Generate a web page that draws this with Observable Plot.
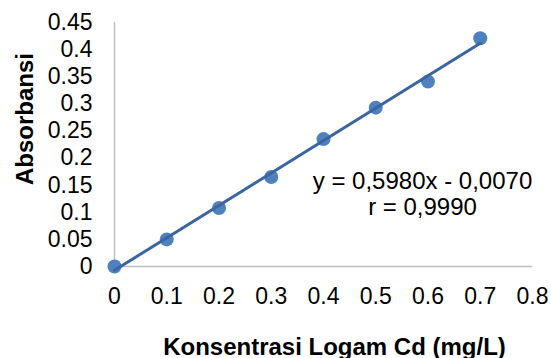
<!DOCTYPE html>
<html>
<head>
<meta charset="utf-8">
<script src="https://cdn.jsdelivr.net/npm/d3@7"></script>
<script src="https://cdn.jsdelivr.net/npm/@observablehq/plot@0.6"></script>
<style>
  html, body { margin: 0; padding: 0; background: #fff; }
  #chart svg { display: block; }
</style>
</head>
<body>
<div id="chart"></div>
<script>
// Data
const concentrations = [0, 0.1, 0.2, 0.3, 0.4, 0.5, 0.6, 0.7];
const absorbances = [0, 0.05, 0.108, 0.165, 0.235, 0.293, 0.341, 0.421];
// Linear trendline endpoints (y = 0.5980x - 0.0070)
const trendX = [0, 0.7];
const trendY = [-0.007, 0.4116];
const xTicks = [0, 0.1, 0.2, 0.3, 0.4, 0.5, 0.6, 0.7, 0.8];
const yTicks = [0, 0.05, 0.1, 0.15, 0.2, 0.25, 0.3, 0.35, 0.4, 0.45];
const xTitle = "Konsentrasi Logam Cd (mg/L)";
const yTitle = "Absorbansi";
const annotation = ["y = 0,5980x - 0,0070", "r = 0,9990"];

const points = concentrations.map((x, i) => ({x, y: absorbances[i]}));
const trend = trendX.map((x, i) => ({x, y: trendY[i]}));

const font = "Liberation Sans, Arial, sans-serif";

const chart = Plot.plot({
  width: 551,
  height: 358,
  marginLeft: 114,
  marginRight: 19,
  marginTop: 22,
  marginBottom: 92,
  style: {fontFamily: font, color: "#000", background: "#fff"},
  x: {domain: [0, 0.8]},
  y: {domain: [0, 0.45]},
  marks: [
    Plot.ruleY([0], {stroke: "#bfbfbf", strokeWidth: 1.5}),
    Plot.ruleX([0], {stroke: "#bfbfbf", strokeWidth: 1.5}),
    Plot.axisX({ticks: xTicks, tickFormat: d => String(d), tickSize: 0, tickPadding: 21, fontSize: 23, label: null, fill: "#000"}),
    Plot.axisY({ticks: yTicks, tickFormat: d => String(d), tickSize: 0, tickPadding: 22, fontSize: 23, label: null, fill: "#000"}),
    Plot.dot(points, {x: "x", y: "y", r: 7, fill: "#4f81bd", stroke: "none"}),
    Plot.line(trend, {x: "x", y: "y", stroke: "#3a65a0", strokeWidth: 3}),
    Plot.text([annotation[0]], {frameAnchor: "top-left", dx: 308, dy: 166, lineAnchor: "bottom", textAnchor: "middle", fontSize: 24, fill: "#000"}),
    Plot.text([annotation[1]], {frameAnchor: "top-left", dx: 308, dy: 192, lineAnchor: "bottom", textAnchor: "middle", fontSize: 24, fill: "#000"}),
    Plot.text([xTitle], {frameAnchor: "bottom", dx: 11, dy: 88, lineAnchor: "bottom", textAnchor: "middle", fontSize: 24, fontWeight: "bold", fill: "#000"}),
    Plot.text([yTitle], {frameAnchor: "left", dx: -82, dy: -25.5, rotate: -90, lineAnchor: "bottom", textAnchor: "middle", fontSize: 24, fontWeight: "bold", fill: "#000"})
  ]
});
document.getElementById("chart").appendChild(chart);
</script>
</body>
</html>
